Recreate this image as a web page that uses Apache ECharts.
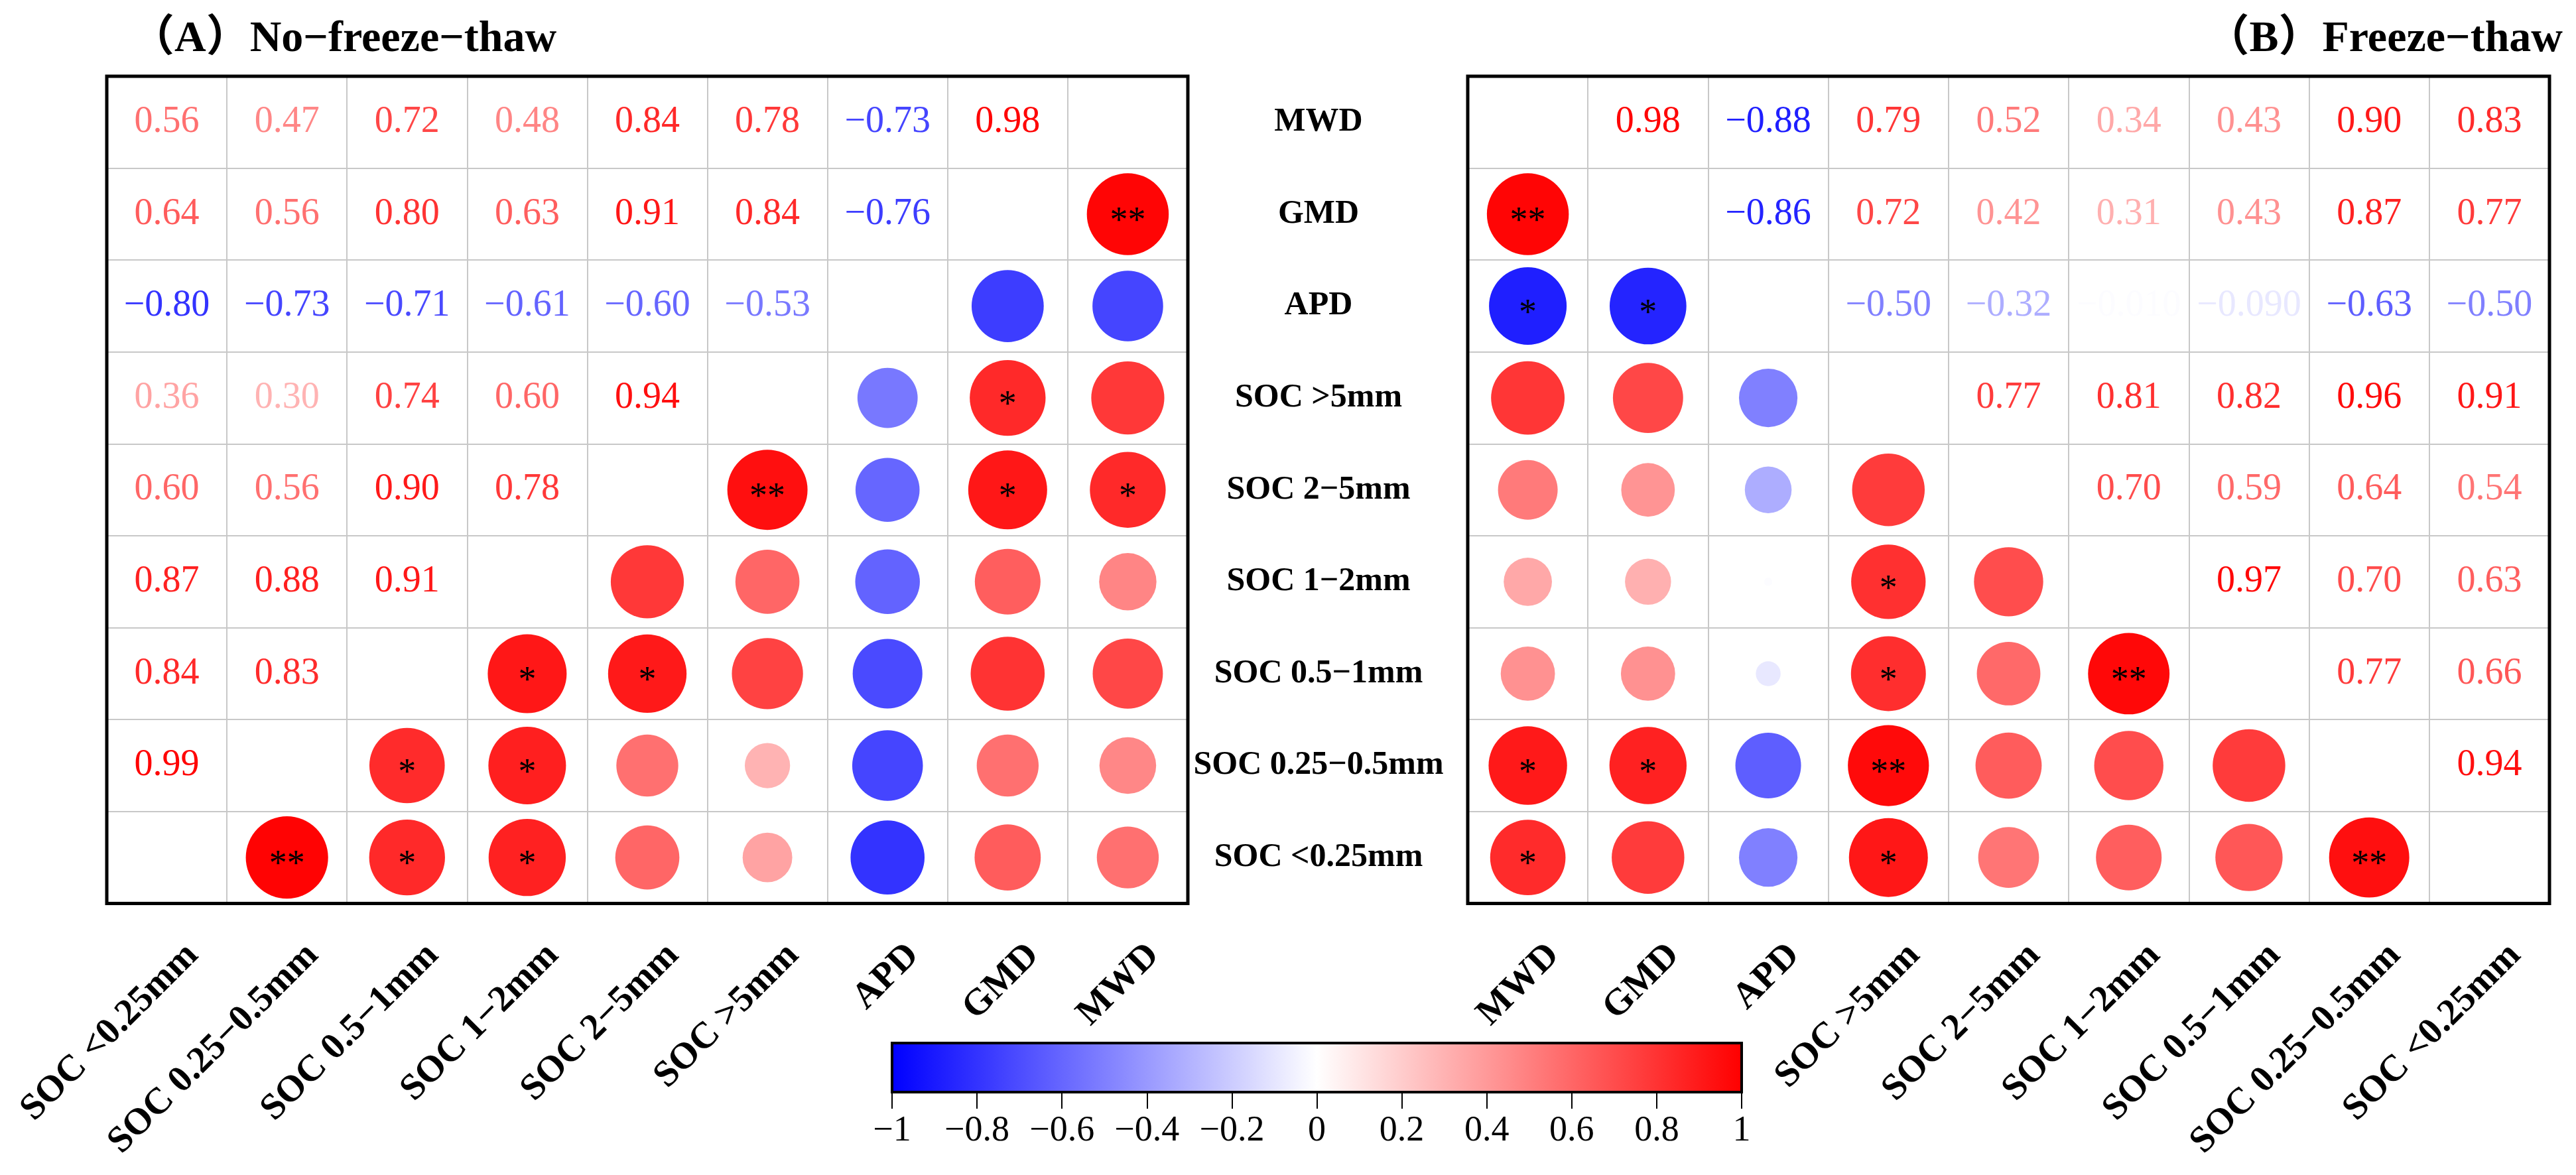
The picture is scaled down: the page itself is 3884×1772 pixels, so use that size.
<!DOCTYPE html>
<html>
<head>
<meta charset="utf-8">
<title>Correlation matrices</title>
<script src="https://cdn.jsdelivr.net/npm/echarts@6/dist/echarts.min.js"></script>
<style>
    html, body { margin: 0; padding: 0; background: #fff; }
    #main { width: 3884px; height: 1772px; }
</style>
</head>
<body>
<div id="main"></div>
<script>
// 变量顺序（行：从上到下）
var varNames = ['MWD', 'GMD', 'APD', 'SOC >5mm', 'SOC 2−5mm', 'SOC 1−2mm', 'SOC 0.5−1mm', 'SOC 0.25−0.5mm', 'SOC <0.25mm'];

var titleA = '（A）No−freeze−thaw';
var titleB = '（B）Freeze−thaw';

// (A) 未冻融 相关系数
var corA = [
    [1, 0.98, -0.73, 0.78, 0.84, 0.48, 0.72, 0.47, 0.56],
    [0.98, 1, -0.76, 0.84, 0.91, 0.63, 0.80, 0.56, 0.64],
    [-0.73, -0.76, 1, -0.53, -0.60, -0.61, -0.71, -0.73, -0.80],
    [0.78, 0.84, -0.53, 1, 0.94, 0.60, 0.74, 0.30, 0.36],
    [0.84, 0.91, -0.60, 0.94, 1, 0.78, 0.90, 0.56, 0.60],
    [0.48, 0.63, -0.61, 0.60, 0.78, 1, 0.91, 0.88, 0.87],
    [0.72, 0.80, -0.71, 0.74, 0.90, 0.91, 1, 0.83, 0.84],
    [0.47, 0.56, -0.73, 0.30, 0.56, 0.88, 0.83, 1, 0.99],
    [0.56, 0.64, -0.80, 0.36, 0.60, 0.87, 0.84, 0.99, 1]
];
// 显著性 0: 无, 1: *, 2: **
var sigA = [
    [0, 2, 0, 0, 1, 0, 0, 0, 0],
    [2, 0, 0, 1, 1, 0, 0, 0, 0],
    [0, 0, 0, 0, 0, 0, 0, 0, 0],
    [0, 1, 0, 0, 2, 0, 0, 0, 0],
    [1, 1, 0, 2, 0, 0, 1, 0, 0],
    [0, 0, 0, 0, 0, 0, 1, 1, 1],
    [0, 0, 0, 0, 1, 1, 0, 1, 1],
    [0, 0, 0, 0, 0, 1, 1, 0, 2],
    [0, 0, 0, 0, 0, 1, 1, 2, 0]
];

// (B) 冻融
var corB = [
    [1, 0.98, -0.88, 0.79, 0.52, 0.34, 0.43, 0.90, 0.83],
    [0.98, 1, -0.86, 0.72, 0.42, 0.31, 0.43, 0.87, 0.77],
    [-0.88, -0.86, 1, -0.50, -0.32, -0.01, -0.09, -0.63, -0.50],
    [0.79, 0.72, -0.50, 1, 0.77, 0.81, 0.82, 0.96, 0.91],
    [0.52, 0.42, -0.32, 0.77, 1, 0.70, 0.59, 0.64, 0.54],
    [0.34, 0.31, -0.01, 0.81, 0.70, 1, 0.97, 0.70, 0.63],
    [0.43, 0.43, -0.09, 0.82, 0.59, 0.97, 1, 0.77, 0.66],
    [0.90, 0.87, -0.63, 0.96, 0.64, 0.70, 0.77, 1, 0.94],
    [0.83, 0.77, -0.50, 0.91, 0.54, 0.63, 0.66, 0.94, 1]
];
var sigB = [
    [0, 2, 1, 0, 0, 0, 0, 1, 1],
    [2, 0, 1, 0, 0, 0, 0, 1, 0],
    [1, 1, 0, 0, 0, 0, 0, 0, 0],
    [0, 0, 0, 0, 0, 1, 1, 2, 1],
    [0, 0, 0, 0, 0, 0, 0, 0, 0],
    [0, 0, 0, 1, 0, 0, 2, 0, 0],
    [0, 0, 0, 1, 0, 2, 0, 0, 0],
    [1, 1, 0, 2, 0, 0, 0, 0, 2],
    [1, 0, 0, 1, 0, 0, 0, 2, 0]
];

// 色条
var cbMin = -1, cbMax = 1, cbStep = 0.2;
var cbColors = ['#0000ff', '#ffffff', '#ff0000'];

var labelFont = "'Liberation Serif', 'Times New Roman', serif";
var titleFont = "'Liberation Serif', 'Noto Sans CJK SC', serif";
var numFont = "'Liberation Serif', 'Times New Roman', serif";

// 蓝-白-红 线性插值
function corColor(r) {
    var g = Math.round(255 * (1 - Math.min(1, Math.abs(r))));
    return r >= 0 ? 'rgb(255,' + g + ',' + g + ')' : 'rgb(' + g + ',' + g + ',255)';
}

function fmtCor(v) {
    var a = Math.abs(v);
    var s = a < 0.1 ? a.toPrecision(2) : a.toFixed(2);
    return (v < 0 ? '−' : '') + s;
}

// 生成单元格数据: [列, 行, r, 显著性, 类型(0数字 1圆)]
function buildCells(cor, sig, reversed) {
    var out = [];
    var n = varNames.length;
    for (var i = 0; i < n; i++) {
        for (var j = 0; j < n; j++) {
            var k = reversed ? n - 1 - j : j;
            if (k === i) continue;
            out.push([j, i, cor[i][k], sig[i][k], k > i ? 0 : 1]);
        }
    }
    return out;
}

var colsA = varNames.slice().reverse();
var colsB = varNames.slice();

function renderCell(params, api) {
    var p = api.coord([api.value(0), api.value(1)]);
    var size = api.size([1, 1]);
    var r = api.value(2), sig = api.value(3), kind = api.value(4);
    var col = corColor(r);
    if (kind === 0) {
        return {
            type: 'text',
            x: p[0], y: p[1],
            style: {
                text: fmtCor(r), fill: col, fontSize: 56, fontFamily: numFont,
                align: 'center', verticalAlign: 'middle',
                textAlign: 'center', textVerticalAlign: 'middle'
            }
        };
    }
    var d = Math.min(size[0], size[1]) * 0.9 * Math.sqrt(Math.abs(r));
    var children = [{
        type: 'circle',
        shape: { cx: p[0], cy: p[1], r: d / 2 },
        style: { fill: col }
    }];
    if (sig > 0) {
        children.push({
            type: 'text',
            x: p[0], y: p[1] + 12,
            style: {
                text: sig === 2 ? '**' : '*', fill: '#000', fontSize: 54, fontFamily: numFont,
                align: 'center', verticalAlign: 'middle',
                textAlign: 'center', textVerticalAlign: 'middle'
            }
        });
    }
    return { type: 'group', children: children };
}

function renderBar(params, api) {
    var p0 = api.coord([api.value(0), 1]);
    var p1 = api.coord([api.value(1), 0]);
    var stops = cbColors.map(function (c, i) {
        return { offset: i / (cbColors.length - 1), color: c };
    });
    return {
        type: 'rect',
        shape: { x: p0[0], y: p0[1], width: p1[0] - p0[0], height: p1[1] - p0[1] },
        style: { fill: new echarts.graphic.LinearGradient(0, 0, 1, 0, stops) }
    };
}

function catX(gridIndex, names) {
    return {
        type: 'category', gridIndex: gridIndex, data: names, position: 'bottom',
        axisLine: { show: false }, axisTick: { show: false },
        splitLine: { show: true, interval: 0, lineStyle: { color: '#c8c8c8', width: 2 } },
        axisLabel: {
            interval: 0, rotate: 45, margin: 31, fontSize: 56, fontWeight: 'bold',
            fontFamily: labelFont, color: '#000', verticalAlign: 'top', lineHeight: 110
        }
    };
}

function catY(gridIndex, showLabel) {
    return {
        type: 'category', gridIndex: gridIndex, data: varNames, inverse: true,
        axisLine: { show: false }, axisTick: { show: false },
        splitLine: { show: true, interval: 0, lineStyle: { color: '#c8c8c8', width: 2 } },
        axisLabel: {
            show: showLabel, interval: 0, align: 'center', margin: 225,
            fontSize: 50, fontWeight: 'bold', fontFamily: labelFont, color: '#000'
        }
    };
}

var chart = echarts.init(document.getElementById('main'), null, { renderer: 'canvas' });

var option = {
    backgroundColor: '#fff',
    animation: false,
    title: [{
        text: titleA, left: 192, top: 22,
        textStyle: { fontSize: 66, fontWeight: 'bold', fontFamily: titleFont, color: '#000' }
    }, {
        text: titleB, right: 15, top: 22,
        textStyle: { fontSize: 66, fontWeight: 'bold', fontFamily: titleFont, color: '#000' }
    }],
    grid: [
        { left: 161, top: 115, width: 1630, height: 1262, show: true, z: 3, borderColor: '#000', borderWidth: 5, backgroundColor: 'transparent' },
        { left: 2213, top: 115, width: 1631, height: 1262, show: true, z: 3, borderColor: '#000', borderWidth: 5, backgroundColor: 'transparent' },
        { left: 1345, top: 1573, width: 1281, height: 74, show: true, z: 3, borderColor: '#000', borderWidth: 4, backgroundColor: 'transparent' }
    ],
    xAxis: [
        catX(0, colsA),
        catX(1, colsB),
        {
            type: 'value', gridIndex: 2, min: cbMin, max: cbMax, interval: cbStep,
            axisLine: { show: false },
            splitLine: { show: false },
            axisTick: { show: true, length: 25, lineStyle: { color: '#000', width: 2 } },
            axisLabel: {
                margin: 32, fontSize: 54, fontFamily: numFont, color: '#000',
                formatter: function (v) {
                    var a = Math.abs(v);
                    if (a < 1e-9) return '0';
                    var s = a > 0.999 ? '1' : a.toFixed(1);
                    return (v < 0 ? '−' : '') + s;
                }
            }
        }
    ],
    yAxis: [
        catY(0, false),
        catY(1, true),
        { type: 'value', gridIndex: 2, min: 0, max: 1, show: false }
    ],
    series: [{
        type: 'custom', xAxisIndex: 0, yAxisIndex: 0,
        renderItem: renderCell, data: buildCells(corA, sigA, true), clip: false
    }, {
        type: 'custom', xAxisIndex: 1, yAxisIndex: 1,
        renderItem: renderCell, data: buildCells(corB, sigB, false), clip: false
    }, {
        type: 'custom', xAxisIndex: 2, yAxisIndex: 2,
        renderItem: renderBar, data: [[cbMin, cbMax]], clip: false
    }]
};

chart.setOption(option);
</script>
</body>
</html>
